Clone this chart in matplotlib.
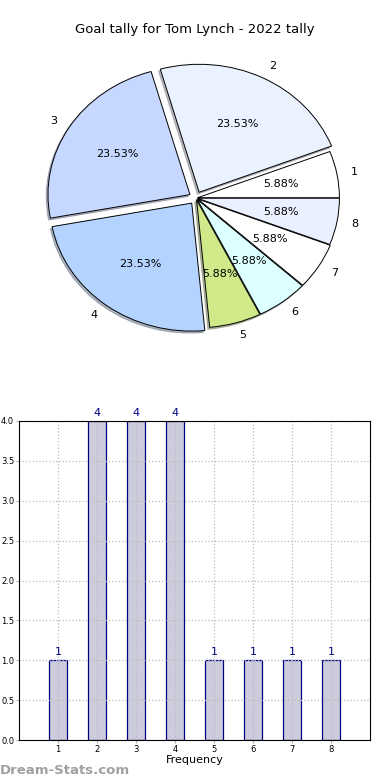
import matplotlib
matplotlib.use("Agg")
import matplotlib.pyplot as plt

# data
labels = ["1", "2", "3", "4", "5", "6", "7", "8"]
goals = [1, 4, 4, 4, 1, 1, 1, 1]
colors = ["#ffffff", "#eaf2ff", "#c6d8ff", "#b4d4ff",
          "#d0ea8a", "#dcffff", "#ffffff", "#eaf0ff"]
explode = [0.01, 0.05, 0.05, 0.05, 0.015, 0.015, 0.015, 0.01]
title = "Goal tally for Tom Lynch - 2022 tally"

W, H, DPI = 390, 780, 100
fig = plt.figure(figsize=(W / DPI, H / DPI), dpi=DPI)

# pie (old-style, not forced circular)
ax1 = fig.add_axes([0, (H - 400) / H, 1, 400 / H])
wedges, texts, autotexts = ax1.pie(
    goals, labels=labels, colors=colors, explode=explode,
    autopct="%.2f%%", pctdistance=0.6, labeldistance=1.1,
    startangle=0, counterclock=True,
    shadow={"ox": -0.009, "oy": -0.011, "shade": 0.5},
    wedgeprops={"edgecolor": "black", "linewidth": 0.7},
    textprops={"fontsize": 8})
ax1.set_aspect("auto")
rx, ry, cx, cy = 142, 128, 196, 198
ax1.set_xlim(-cx / rx, (W - cx) / rx)
ax1.set_ylim(-(400 - cy) / ry, cy / ry)
ax1.text(0.5, (400 - 30) / 400, title, transform=ax1.transAxes,
         ha="center", va="center", fontsize=9.5)

# bars
ax2 = fig.add_axes([19 / W, (H - 740) / H, (370 - 19) / W, (740 - 421) / H])
x = list(range(1, len(goals) + 1))
ax2.bar(x, goals, width=0.44, color="#ccccdd", edgecolor="#000080",
        linewidth=0.9, zorder=1)
for xi, v in zip(x, goals):
    ax2.text(xi, v + 0.04, str(v), ha="center", va="bottom",
             color="#000080", fontsize=8)
ax2.set_xlim(0, 9)
ax2.set_ylim(0, 4)
ax2.set_xticks(x)
ax2.set_yticks([0, 0.5, 1.0, 1.5, 2.0, 2.5, 3.0, 3.5, 4.0])
ax2.tick_params(labelsize=6, length=2, color="#aaaaaa", pad=1.5)
ax2.set_axisbelow("line")
ax2.grid(True, linestyle=":", color="#bbbbbb", linewidth=0.9)
ax2.set_xlabel("Frequency", fontsize=8, labelpad=1)

fig.text(0, 3 / H, "Dream-Stats.com", fontsize=9.5, fontweight="bold",
         color="#a0a0a0", ha="left", va="bottom")

fig.savefig("out.png", dpi=DPI)
